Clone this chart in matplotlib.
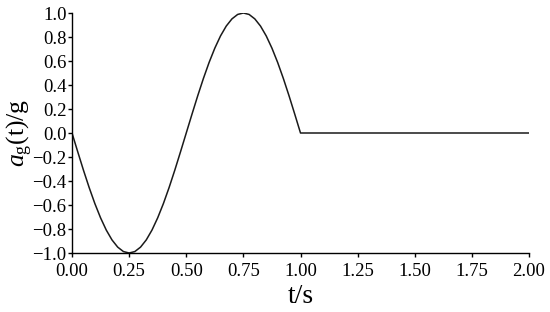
import matplotlib
matplotlib.use("Agg")
import matplotlib.pyplot as plt

plt.rcParams['font.family'] = ['Liberation Serif', 'DejaVu Serif']
plt.rcParams['mathtext.fontset'] = 'custom'
plt.rcParams['mathtext.rm'] = 'Liberation Serif'
plt.rcParams['mathtext.it'] = 'Liberation Serif:italic'

t = [0.0, 0.025, 0.05, 0.075, 0.1, 0.125, 0.15, 0.175, 0.2, 0.225, 0.25,
     0.275, 0.3, 0.325, 0.35, 0.375, 0.4, 0.425, 0.45, 0.475, 0.5,
     0.525, 0.55, 0.575, 0.6, 0.625, 0.65, 0.675, 0.7, 0.725, 0.75,
     0.775, 0.8, 0.825, 0.85, 0.875, 0.9, 0.925, 0.95, 0.975, 1.0, 2.0]
a = [0.0, -0.156, -0.309, -0.454, -0.588, -0.707, -0.809, -0.891, -0.951, -0.988, -1.0,
     -0.988, -0.951, -0.891, -0.809, -0.707, -0.588, -0.454, -0.309, -0.156, 0.0,
     0.156, 0.309, 0.454, 0.588, 0.707, 0.809, 0.891, 0.951, 0.988, 1.0,
     0.988, 0.951, 0.891, 0.809, 0.707, 0.588, 0.454, 0.309, 0.156, 0.0, 0.0]
xticks = [0.0, 0.25, 0.5, 0.75, 1.0, 1.25, 1.5, 1.75, 2.0]
yticks = [-1.0, -0.8, -0.6, -0.4, -0.2, 0.0, 0.2, 0.4, 0.6, 0.8, 1.0]

fig = plt.figure(figsize=(5.5, 3.12), dpi=100)
ax = fig.add_axes([72/550, 59/312, (529-72)/550, (253-13)/312])
ax.plot(t, a, color='#1a1a1a', lw=1.1)
ax.set_xlim(0, 2)
ax.set_ylim(-1, 1)
ax.set_xticks(xticks)
ax.set_xticklabels([f"{v:.2f}" for v in xticks])
ax.set_yticks(yticks)
ax.set_yticklabels([f"{v:.1f}".replace('-', '\u2212') for v in yticks])
for s in ['top', 'right']:
    ax.spines[s].set_visible(False)
for s in ['left', 'bottom']:
    ax.spines[s].set_linewidth(1.0)
ax.tick_params(direction='out', length=3, width=1.0, labelsize=13.5)
ax.tick_params(axis='x', pad=4)
ax.tick_params(axis='y', pad=1)
ax.set_xlabel('t/s', fontsize=20, labelpad=3)
ax.set_ylabel(r'$a_{\mathrm{g}}$(t)/g', fontsize=18.5, labelpad=-2)
fig.savefig('out.png', dpi=100)
